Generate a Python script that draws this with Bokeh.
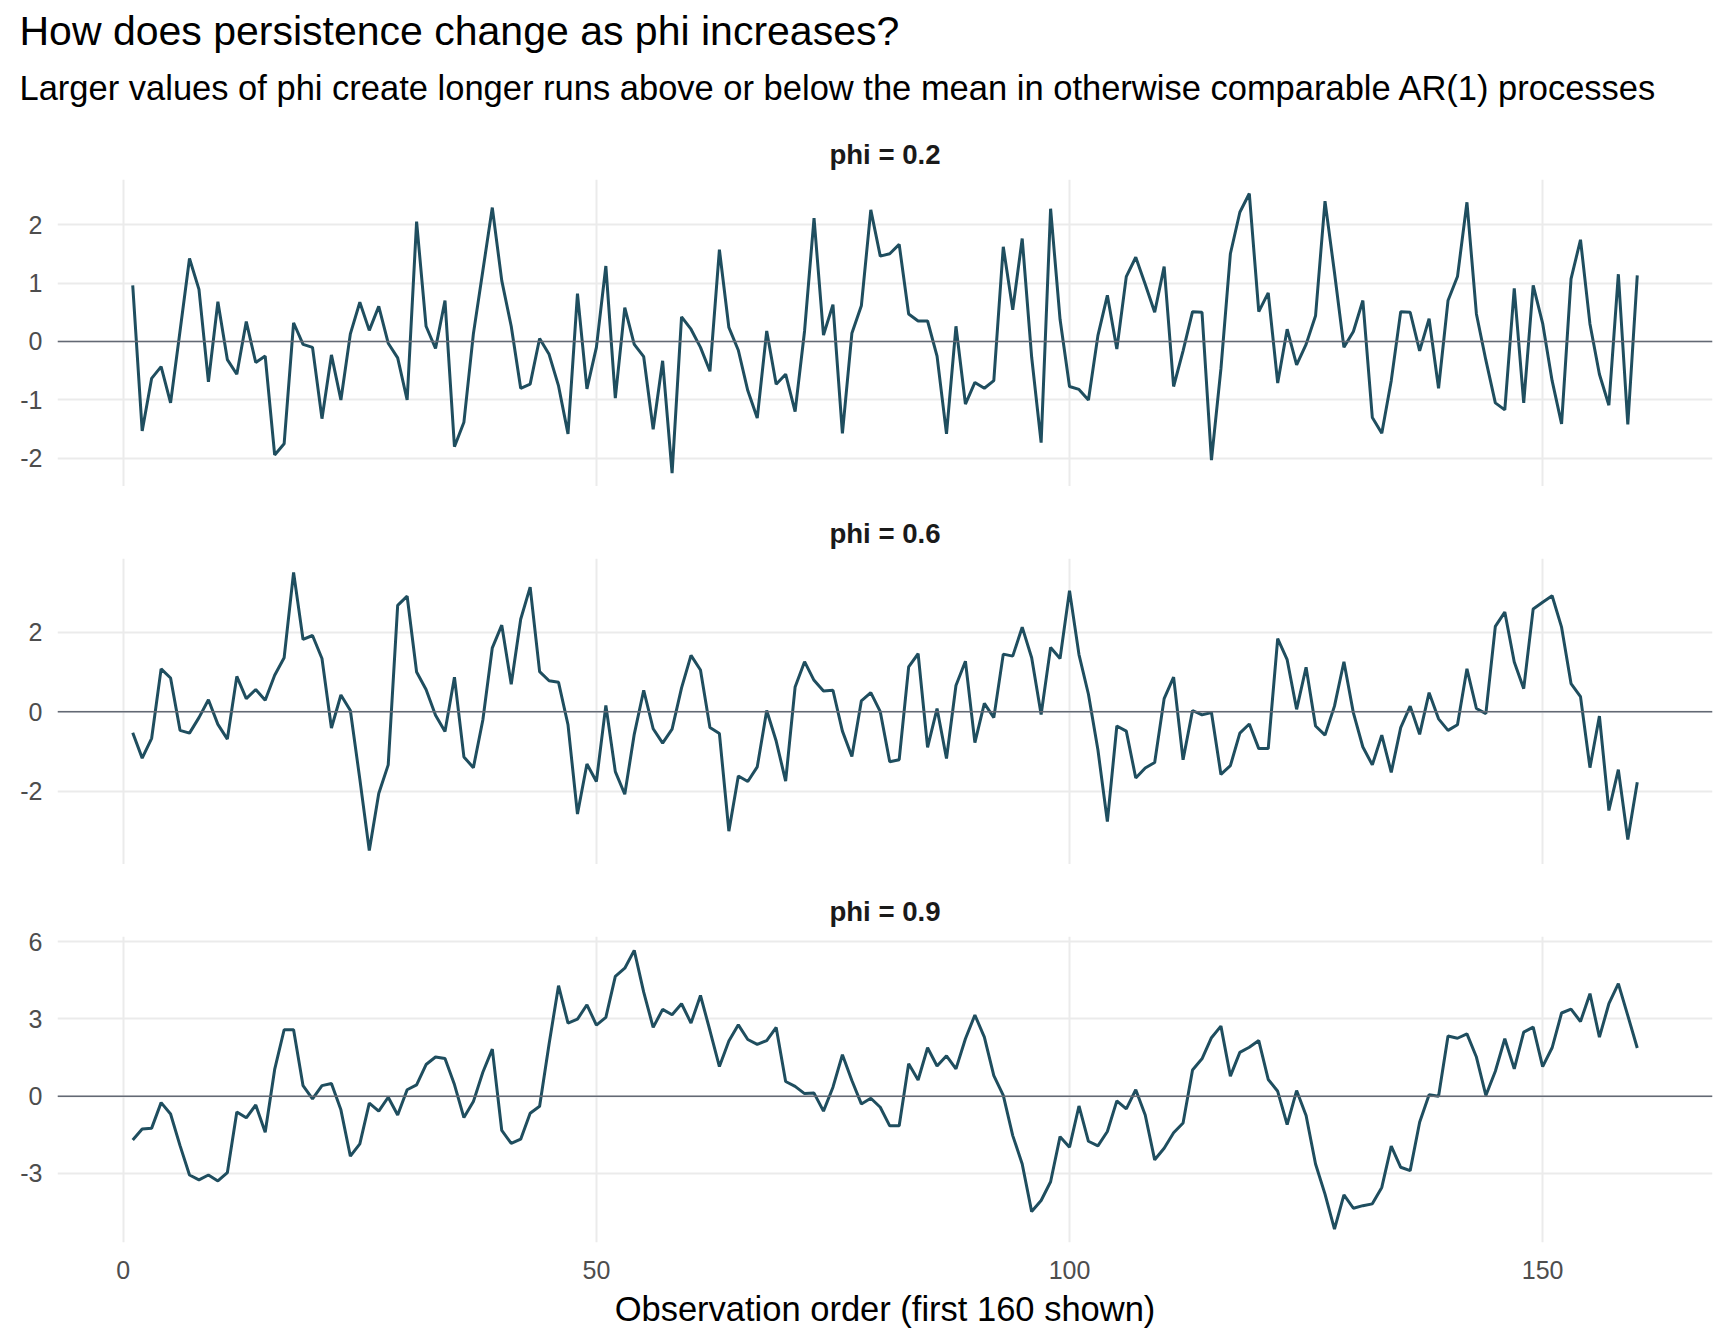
from bokeh.plotting import figure
from bokeh.models import Range1d, FixedTicker, Span, Title, ColumnDataSource
from bokeh.layouts import column
from bokeh.embed import file_html
from bokeh.resources import INLINE

obs = list(range(1, 161))

phi_02 = [0.96, -1.53, -0.63, -0.43, -1.05, 0.18, 1.42, 0.89, -0.69, 0.68,
          -0.31, -0.56, 0.34, -0.36, -0.25, -1.94, -1.75, 0.32, -0.05, -0.10,
          -1.32, -0.23, -1.00, 0.13, 0.67, 0.19, 0.60, -0.03, -0.28, -1.00,
          2.05, 0.26, -0.12, 0.70, -1.80, -1.38, 0.13, 1.21, 2.29, 1.04,
          0.26, -0.80, -0.73, 0.05, -0.22, -0.76, -1.58, 0.82, -0.81, -0.10,
          1.29, -0.97, 0.58, -0.05, -0.26, -1.50, -0.33, -2.25, 0.42, 0.21,
          -0.10, -0.51, 1.57, 0.24, -0.15, -0.84, -1.31, 0.18, -0.73, -0.56,
          -1.20, 0.18, 2.11, 0.11, 0.63, -1.57, 0.14, 0.61, 2.25, 1.46,
          1.50, 1.66, 0.47, 0.35, 0.35, -0.25, -1.58, 0.26, -1.07, -0.70,
          -0.80, -0.67, 1.62, 0.54, 1.76, -0.27, -1.73, 2.27, 0.38, -0.77,
          -0.82, -1.00, 0.10, 0.79, -0.13, 1.11, 1.44, 0.98, 0.50, 1.28,
          -0.77, -0.16, 0.51, 0.50, -2.03, -0.47, 1.50, 2.21, 2.53, 0.51,
          0.83, -0.71, 0.21, -0.40, -0.05, 0.44, 2.40, 1.18, -0.10, 0.17,
          0.70, -1.30, -1.57, -0.67, 0.51, 0.50, -0.16, 0.39, -0.80, 0.70,
          1.11, 2.38, 0.47, -0.32, -1.05, -1.17, 0.91, -1.05, 0.96, 0.31,
          -0.67, -1.41, 1.07, 1.74, 0.30, -0.56, -1.09, 1.15, -1.42, 1.13]

phi_06 = [-0.53, -1.17, -0.67, 1.08, 0.85, -0.47, -0.54, -0.15, 0.30, -0.32,
          -0.69, 0.89, 0.33, 0.56, 0.29, 0.92, 1.36, 3.51, 1.82, 1.92,
          1.34, -0.41, 0.42, 0.03, -1.70, -3.50, -2.06, -1.34, 2.68, 2.91,
          1.00, 0.56, -0.09, -0.50, 0.87, -1.14, -1.41, -0.21, 1.61, 2.18,
          0.69, 2.33, 3.14, 1.01, 0.78, 0.74, -0.33, -2.58, -1.32, -1.76,
          0.16, -1.51, -2.08, -0.57, 0.54, -0.43, -0.79, -0.44, 0.60, 1.42,
          1.05, -0.40, -0.55, -3.01, -1.62, -1.76, -1.39, 0.03, -0.74, -1.75,
          0.62, 1.26, 0.79, 0.52, 0.54, -0.49, -1.13, 0.27, 0.48, 0.00,
          -1.26, -1.21, 1.13, 1.46, -0.90, 0.08, -1.18, 0.66, 1.27, -0.78,
          0.21, -0.15, 1.45, 1.40, 2.13, 1.36, -0.07, 1.62, 1.34, 3.05,
          1.44, 0.44, -0.96, -2.77, -0.36, -0.49, -1.67, -1.42, -1.28, 0.33,
          0.87, -1.21, 0.03, -0.08, -0.02, -1.58, -1.36, -0.54, -0.31, -0.93,
          -0.93, 1.84, 1.31, 0.06, 1.12, -0.36, -0.59, 0.14, 1.26, -0.03,
          -0.89, -1.34, -0.59, -1.53, -0.40, 0.14, -0.57, 0.48, -0.18, -0.47,
          -0.33, 1.08, 0.08, -0.05, 2.15, 2.51, 1.25, 0.58, 2.59, 2.76,
          2.92, 2.13, 0.71, 0.38, -1.41, -0.11, -2.49, -1.46, -3.22, -1.78]

phi_09 = [-1.70, -1.27, -1.24, -0.25, -0.69, -1.92, -3.06, -3.25, -3.06, -3.29,
          -2.97, -0.61, -0.84, -0.34, -1.40, 1.04, 2.58, 2.58, 0.41, -0.10,
          0.41, 0.49, -0.53, -2.33, -1.85, -0.27, -0.58, -0.04, -0.73, 0.25,
          0.44, 1.23, 1.52, 1.46, 0.45, -0.83, -0.21, 0.93, 1.83, -1.33,
          -1.83, -1.67, -0.66, -0.39, 2.03, 4.29, 2.84, 2.99, 3.55, 2.76,
          3.06, 4.65, 4.97, 5.66, 4.04, 2.67, 3.37, 3.16, 3.59, 2.84,
          3.91, 2.55, 1.15, 2.14, 2.77, 2.20, 2.01, 2.16, 2.67, 0.57,
          0.38, 0.10, 0.12, -0.58, 0.35, 1.61, 0.61, -0.30, -0.08, -0.43,
          -1.15, -1.15, 1.26, 0.63, 1.88, 1.17, 1.57, 1.06, 2.23, 3.15,
          2.29, 0.80, 0.03, -1.53, -2.63, -4.48, -4.05, -3.32, -1.57, -1.98,
          -0.38, -1.75, -1.93, -1.37, -0.18, -0.49, 0.25, -0.73, -2.47, -2.02,
          -1.42, -1.04, 1.02, 1.45, 2.27, 2.72, 0.78, 1.70, 1.90, 2.16,
          0.65, 0.19, -1.10, 0.22, -0.75, -2.63, -3.80, -5.16, -3.83, -4.35,
          -4.25, -4.18, -3.54, -1.94, -2.76, -2.89, -1.01, 0.06, 0.00, 2.34,
          2.25, 2.42, 1.52, 0.03, 0.97, 2.23, 1.06, 2.49, 2.68, 1.15,
          1.88, 3.23, 3.38, 2.90, 3.98, 2.29, 3.59, 4.37, 3.13, 1.87]

panel_labels = ["phi = 0.2", "phi = 0.6", "phi = 0.9"]
x_ticks = [0, 50, 100, 150]
y_ticks = [[-2, -1, 0, 1, 2], [-2, 0, 2], [-3, 0, 3, 6]]
y_ranges = [(-2.48, 2.77), (-3.85, 3.86), (-5.68, 6.2)]

title_text = "How does persistence change as phi increases?"
subtitle_text = ("Larger values of phi create longer runs above or below the mean "
                 "in otherwise comparable AR(1) processes")
x_label = "Observation order (first 160 shown)"

FONT = "Liberation Sans"
LINE_COLOR = "#1F4E5F"
GRID_COLOR = "#EBEBEB"
ZERO_COLOR = "#636974"
TICK_COLOR = "#4D4D4D"

series = [phi_02, phi_06, phi_09]
x_range = Range1d(-6.95, 167.95)

figs = []
for i, (vals, lab) in enumerate(zip(series, panel_labels)):
    last = (i == 2)
    top = 179 if i == 0 else 72
    p = figure(frame_width=1655, frame_height=306 if i else 307,
               x_range=x_range, y_range=Range1d(*y_ranges[i]),
               output_backend="svg", toolbar_location=None,
               min_border_left=57, min_border_right=8,
               min_border_top=top, min_border_bottom=94 if last else 0,
               background_fill_color="white", border_fill_color="white",
               outline_line_color=None)
    src = ColumnDataSource(dict(x=obs, y=vals))
    p.add_layout(Span(location=0, dimension="width", line_color=ZERO_COLOR,
                      line_width=1.6), "center")
    p.line("x", "y", source=src, line_color=LINE_COLOR, line_width=3)

    # strip label
    p.add_layout(Title(text=lab, align="center", text_font=FONT,
                       text_font_size="27.6px", text_font_style="bold",
                       text_color="#1A1A1A", standoff=20), "above")
    if i == 0:
        p.add_layout(Title(text=subtitle_text, align="left", offset=-38,
                           text_font=FONT, text_font_size="34.5px",
                           text_font_style="normal", text_color="black",
                           standoff=39), "above")
        p.add_layout(Title(text=title_text, align="left", offset=-38,
                           text_font=FONT, text_font_size="41px",
                           text_font_style="normal", text_color="black",
                           standoff=-12), "above")

    p.xaxis.ticker = FixedTicker(ticks=x_ticks)
    p.yaxis.ticker = FixedTicker(ticks=y_ticks[i])
    p.yaxis.major_label_overrides = {t: str(t) for t in y_ticks[i]}
    for ax in (p.xaxis[0], p.yaxis[0]):
        ax.axis_line_color = None
        ax.major_tick_line_color = None
        ax.minor_tick_line_color = None
        ax.major_tick_out = 0
        ax.major_tick_in = 0
        ax.major_label_text_font = FONT
        ax.major_label_text_font_size = "25px"
        ax.major_label_text_color = TICK_COLOR
    p.yaxis.major_label_standoff = 15
    p.xaxis.major_label_standoff = 18
    if last:
        p.xaxis.axis_label = x_label
        p.xaxis.axis_label_text_font = FONT
        p.xaxis.axis_label_text_font_size = "34.5px"
        p.xaxis.axis_label_text_font_style = "normal"
        p.xaxis.axis_label_text_color = "black"
        p.xaxis.axis_label_standoff = 8
    else:
        p.xaxis.visible = False
    p.xgrid.grid_line_color = GRID_COLOR
    p.ygrid.grid_line_color = GRID_COLOR
    p.xgrid.grid_line_width = 2
    p.ygrid.grid_line_width = 2
    figs.append(p)

layout = column(*figs, spacing=0)
open("out.html", "w").write(file_html(layout, INLINE))
